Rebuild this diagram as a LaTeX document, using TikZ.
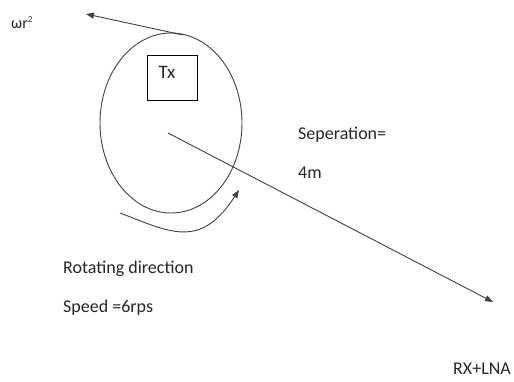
\documentclass[tikz,border=0pt]{standalone}
\usepackage{fontspec}
\setmainfont{Carlito}
\usetikzlibrary{arrows.meta,shapes.geometric}
\begin{document}
\begin{tikzpicture}[x=1pt,y=-1pt,
  lbl/.style={anchor=west,inner sep=0pt,font=\fontsize{18}{21}\selectfont,text=black!85},
  ln/.style={draw=black!75,line width=0.9pt},
  arr/.style={ln,-{Triangle[length=8pt,width=6pt]}}]
\useasboundingbox (0,0) rectangle (514,381);
\node[draw=black!75,line width=0.9pt,ellipse,minimum width=142pt,minimum height=180pt,inner sep=0pt] (rot) at (171,123) {};
\node[draw=black,line width=1pt,minimum width=50pt,minimum height=45pt,inner sep=0pt] (tx) at (172,77.5) {};
\node[lbl,anchor=center,font=\fontsize{19}{22}\selectfont] (txl) at (167,72) {Tx};
\coordinate (tan) at (183,35);
\coordinate (wtip) at (86,14);
\node[lbl,font=\fontsize{16}{18}\selectfont] (w) at (11,23) {ωr\raisebox{0.8ex}{\fontsize{9}{10}\selectfont 2}};
\draw[arr] (tan) -- (wtip);
\coordinate (c) at (168,133);
\coordinate (rx) at (493,302);
\draw[arr] (c) -- (rx);
\coordinate (r0) at (120,213);
\coordinate (r1) at (239,190);
\draw[arr] (r0) .. controls (170,232) and (200,250) .. (r1);
\node[lbl] (sep) at (298,135) {Seperation=};
\node[lbl] (m) at (298,173) {4m};
\node[lbl] (rd) at (63,269) {Rotating direction};
\node[lbl] (sp) at (63,308) {Speed =6rps};
\node[lbl] (rxl) at (453,369) {RX+LNA};
\end{tikzpicture}
\end{document}
